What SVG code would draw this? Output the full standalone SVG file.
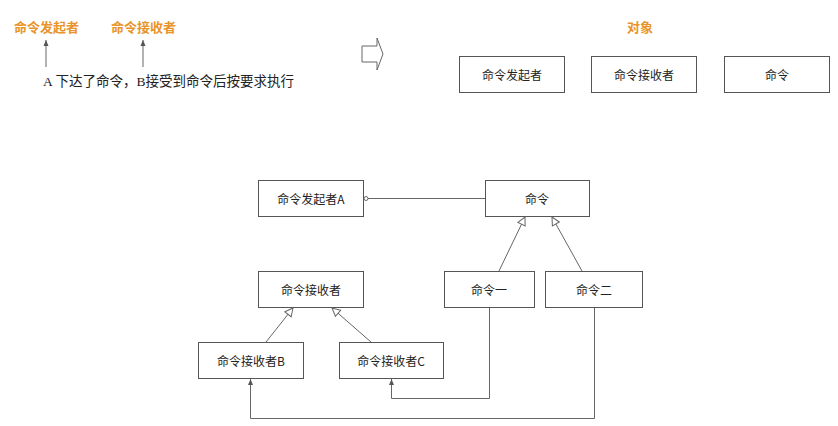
<svg xmlns="http://www.w3.org/2000/svg" width="838" height="426" viewBox="0 0 838 426">
<style>
.box{fill:#fff;stroke:#555;stroke-width:1}
.t{font-family:"Noto Sans CJK SC","Noto Sans",sans-serif;font-size:12px;fill:#222;text-anchor:middle;dominant-baseline:central}
.o{font-family:"Liberation Serif","Noto Sans CJK SC",serif;font-size:13px;font-weight:bold;fill:#e8942a;dominant-baseline:central}
.s{font-family:"Liberation Serif","Noto Sans CJK SC",serif;font-size:13.5px;fill:#222;dominant-baseline:central}
.ln{fill:none;stroke:#666;stroke-width:1}
</style>
<defs>
<marker id="tri" markerUnits="userSpaceOnUse" markerWidth="12" markerHeight="12" refX="9" refY="5" orient="auto" viewBox="0 0 12 10">
<path d="M1,1 L9,5 L1,9 Z" fill="#fff" stroke="#666" stroke-width="1"/>
</marker>
<marker id="arr" markerUnits="userSpaceOnUse" markerWidth="8" markerHeight="8" refX="6" refY="3" orient="auto" viewBox="0 0 8 6">
<path d="M0,0.5 L6,3 L0,5.5 Z" fill="#555"/>
</marker>
<marker id="circ" markerUnits="userSpaceOnUse" markerWidth="8" markerHeight="8" refX="2" refY="4" viewBox="0 0 8 8">
<circle cx="4" cy="4" r="2" fill="#fff" stroke="#666" stroke-width="1"/>
</marker>
</defs>

<g id="top-text">
<text class="o" x="14" y="27">命令发起者</text>
<text class="o" x="111" y="27">命令接收者</text>
<text class="s" x="43" y="81">A 下达了命令，B接受到命令后按要求执行</text>
<line class="ln" x1="46" y1="67" x2="46" y2="40" marker-end="url(#arr)"/>
<line class="ln" x1="143" y1="67" x2="143" y2="40" marker-end="url(#arr)"/>
</g>

<g id="big-arrow">
<polygon points="362,46 377,46 377,38 383,54 377,70 377,62 362,62" fill="#fff" stroke="#666" stroke-width="1"/>
</g>

<g id="objects">
<text class="o" x="640" y="27" text-anchor="middle">对象</text>
</g>
<g id="obj-invoker"><rect class="box" x="459.5" y="56.5" width="105" height="36"/><text class="t" x="512" y="74.5">命令发起者</text></g>
<g id="obj-receiver"><rect class="box" x="591.5" y="56.5" width="105" height="36"/><text class="t" x="644" y="74.5">命令接收者</text></g>
<g id="obj-command"><rect class="box" x="724.5" y="56.5" width="105" height="36"/><text class="t" x="777" y="74.5">命令</text></g>

<g id="invokerA"><rect class="box" x="258.5" y="180.5" width="105" height="36"/><text class="t" x="311" y="198.5">命令发起者A</text></g>
<g id="command"><rect class="box" x="485.5" y="180.5" width="104" height="36"/><text class="t" x="537" y="198.5">命令</text></g>
<g id="receiver"><rect class="box" x="258.5" y="271.5" width="105" height="36"/><text class="t" x="311" y="289.5">命令接收者</text></g>
<g id="cmd1"><rect class="box" x="444.5" y="271.5" width="90" height="36"/><text class="t" x="489" y="289.5">命令一</text></g>
<g id="cmd2"><rect class="box" x="545.5" y="271.5" width="97" height="36"/><text class="t" x="594" y="289.5">命令二</text></g>
<g id="receiverB"><rect class="box" x="198.5" y="342.5" width="105" height="36"/><text class="t" x="251" y="360.5">命令接收者B</text></g>
<g id="receiverC"><rect class="box" x="339.5" y="342.5" width="104" height="36"/><text class="t" x="391" y="360.5">命令接收者C</text></g>

<g id="connectors">
<line class="ln" x1="364" y1="198.5" x2="485" y2="198.5" marker-start="url(#circ)"/>
<line class="ln" x1="499" y1="271" x2="525" y2="217" marker-end="url(#tri)"/>
<line class="ln" x1="582" y1="271" x2="552" y2="217" marker-end="url(#tri)"/>
<line class="ln" x1="266" y1="342" x2="293" y2="308" marker-end="url(#tri)"/>
<line class="ln" x1="371" y1="342" x2="332" y2="308" marker-end="url(#tri)"/>
<polyline class="ln" points="489.5,308 489.5,398.5 391.5,398.5 391.5,379" marker-end="url(#arr)"/>
<polyline class="ln" points="594.5,308 594.5,418.5 250.5,418.5 250.5,379" marker-end="url(#arr)"/>
</g>
</svg>
